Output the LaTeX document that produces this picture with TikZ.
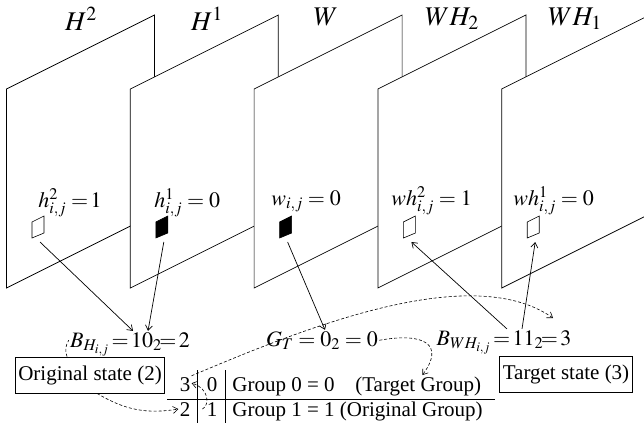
\documentclass[tikz,border=0pt]{standalone}
\usepackage{mathptmx}
\usepackage{fontspec}
\setmainfont{Liberation Serif}
\usetikzlibrary{arrows.meta}

\begin{document}
\begin{tikzpicture}[x=1pt, y=-1pt, >={Straight Barb[length=5pt,width=7pt]}, line width=0.7pt,
    lbl/.style={inner sep=1pt, font=\fontsize{22}{26}\selectfont},
    toplbl/.style={inner sep=1pt, anchor=base, font=\fontsize{27}{30}\selectfont},
    txt/.style={inner sep=1pt, font=\fontsize{21}{25}\selectfont},
    statebox/.style={draw, txt, minimum height=36pt, inner xsep=3pt},
    dashline/.style={dash pattern=on 3pt off 2pt, line width=0.6pt}]
  \useasboundingbox (0,0) rectangle (644,426);
  \def\gap{123.8}   % plane spacing
  % planes, back to front
  \begin{scope}
    \clip (0,0) rectangle (644,426);
    \foreach \k in {0,...,4}{
      \pgfmathsetmacro\xl{6.5+\gap*\k}
      \filldraw[fill=white] (\xl,89) -- ++(148,-74) -- ++(0,199) -- ++(-148,74) -- cycle;
    }
  \end{scope}
  % pixels
  \foreach \k/\f in {0/white,1/black,2/black,3/white,4/white}{
    \pgfmathsetmacro\xs{32+\gap*\k}
    \filldraw[fill=\f, line width=0.6pt] (\xs,222) -- ++(12,-6) -- ++(0,17) -- ++(-12,5) -- cycle;
    \coordinate (sq\k) at (\xs+8,242);
  }
  \node[toplbl] (tH2) at (81,30) {$H^2$};
  \node[toplbl] (tH1) at (207,30) {$H^1$};
  \node[toplbl] (tW) at (326,25) {$W$};
  \node[toplbl] (tWH2) at (452,25) {$WH_2$};
  \node[toplbl] (tWH1) at (575,25) {$WH_1$};
  \node[lbl, anchor=base west] (h2) at (37,207) {$h^2_{i,j}\;{=}\,1$};
  \node[lbl, anchor=base west] (h1) at (153,207) {$h^1_{i,j}=0$};
  \node[lbl, anchor=base west] (w) at (270,205) {$w_{i,j}=0$};
  \node[lbl, anchor=base west] (wh2) at (390,205) {$wh^2_{i,j}=1$};
  \node[lbl, anchor=base west] (wh1) at (512,205) {$wh^1_{i,j}=0$};
  % binary values
  \node[lbl, anchor=base] (BH) at (130,347) {$B_{H_{i,j}}\,{=}\,10_2\!{=}\,2$};
  \node[lbl, anchor=base] (GT) at (322,346) {$G_T=0_2=0$};
  \node[lbl, anchor=base] (BWH) at (504,345) {$B_{WH_{i,j}}\,{=}\,11_2\!{=}\,3$};
  \node[statebox] (orig) at (90,375) {Original state (2)};
  \node[statebox] (targ) at (566,374) {Target state (3)};
  % group table
  \node[txt, anchor=base] (t3) at (185,391) {3};
  \node[txt, anchor=base] (t0) at (212,391) {0};
  \node[txt, anchor=base] (t2) at (185,416) {2};
  \node[txt, anchor=base] (t1) at (212,416) {1};
  \node[txt, anchor=base west] (g0) at (231,391) {Group 0 = 0};
  \node[txt, anchor=base west] (tg) at (354,391) {(Target Group)};
  \node[txt, anchor=base west] (g1) at (231,416) {Group 1 = 1 (Original Group)};
  \draw (167,399) -- (495,399);
  \draw (197,370) -- (197,423);
  \draw (225,370) -- (225,423);
  % arrows
  \draw[->] (sq0) -- ([xshift=3pt]BH.north);
  \draw[->] (sq1) -- ([xshift=18pt]BH.north);
  \draw[->] (sq2) -- ([xshift=3pt]GT.north);
  \draw[->] ([xshift=3pt]BWH.north) -- (sq3);
  \draw[->] ([xshift=18pt]BWH.north) -- (sq4);
  \coordinate (c3) at (553,318);
  \draw[dashline] ([xshift=-23pt]orig.north) to[bend left=25] ([yshift=4pt]BH.west);
  \draw[dashline,->] ([xshift=7pt]orig.south) to[bend right=20] (t2.west);
  \draw[dashline,->] (t3.north east) .. controls (300,330) and (470,260) .. (c3);
  \draw[dashline,->] (GT.east) .. controls (425,332) and (445,345) .. ([xshift=4pt]tg.north);
  \draw[dashline,->] ([xshift=-3pt]t1.west) .. controls (210,405) and (209,388) .. ([yshift=1pt]t3.east);
\end{tikzpicture}
\end{document}
